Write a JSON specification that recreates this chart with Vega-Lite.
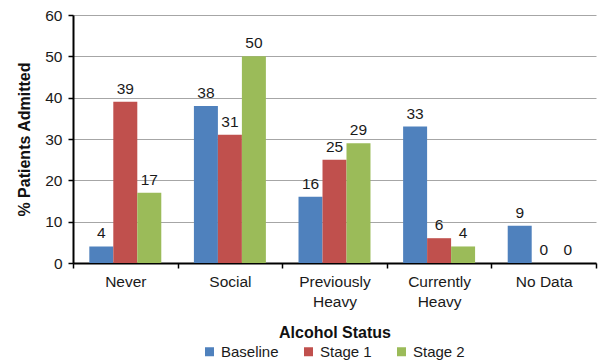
{
  "$schema": "https://vega.github.io/schema/vega-lite/v6.json",
  "width": 523,
  "height": 248,
  "autosize": "none",
  "padding": {"left": 73, "top": 15, "right": 3, "bottom": 100},
  "background": "white",
  "config": {
    "font": "Liberation Sans",
    "view": {"stroke": null},
    "axis": {
      "labelFont": "Liberation Sans",
      "titleFont": "Liberation Sans",
      "labelColor": "#1a1a1a",
      "titleColor": "#111111",
      "labelFontSize": 15.5,
      "titleFontSize": 16,
      "titleFontWeight": "bold",
      "domainColor": "#000000",
      "domainWidth": 2,
      "tickColor": "#000000",
      "tickWidth": 1.5,
      "tickSize": 5
    },
    "legend": {
      "labelFont": "Liberation Sans",
      "labelFontSize": 15,
      "labelColor": "#1a1a1a",
      "padding": 0
    }
  },
  "data": {
    "values": [
      {"status": "Never", "series": "Baseline", "pct": 4},
      {"status": "Never", "series": "Stage 1", "pct": 39},
      {"status": "Never", "series": "Stage 2", "pct": 17},
      {"status": "Social", "series": "Baseline", "pct": 38},
      {"status": "Social", "series": "Stage 1", "pct": 31},
      {"status": "Social", "series": "Stage 2", "pct": 50},
      {"status": "Previously Heavy", "series": "Baseline", "pct": 16},
      {"status": "Previously Heavy", "series": "Stage 1", "pct": 25},
      {"status": "Previously Heavy", "series": "Stage 2", "pct": 29},
      {"status": "Currently Heavy", "series": "Baseline", "pct": 33},
      {"status": "Currently Heavy", "series": "Stage 1", "pct": 6},
      {"status": "Currently Heavy", "series": "Stage 2", "pct": 4},
      {"status": "No Data", "series": "Baseline", "pct": 9},
      {"status": "No Data", "series": "Stage 1", "pct": 0},
      {"status": "No Data", "series": "Stage 2", "pct": 0}
    ]
  },
  "encoding": {
    "x": {
      "field": "status",
      "type": "nominal",
      "sort": ["Never", "Social", "Previously Heavy", "Currently Heavy", "No Data"],
      "scale": {"paddingInner": 0, "paddingOuter": 0},
      "axis": {
        "title": "Alcohol Status",
        "labelAngle": 0,
        "tickBand": "extent",
        "grid": false,
        "labelPadding": 6,
        "labelLineHeight": 20,
        "titlePadding": 15,
        "labelExpr": "datum.label == 'No Data' ? datum.label : split(datum.label, ' ')"
      }
    },
    "xOffset": {
      "field": "series",
      "type": "nominal",
      "sort": ["Baseline", "Stage 1", "Stage 2"],
      "scale": {"paddingInner": 0, "paddingOuter": 0.68}
    },
    "y": {
      "field": "pct",
      "type": "quantitative",
      "scale": {"domain": [0, 60], "nice": false},
      "axis": {
        "title": "% Patients Admitted",
        "values": [0, 10, 20, 30, 40, 50, 60],
        "grid": true,
        "gridColor": "#a6a6a6",
        "gridWidth": 1,
        "labelPadding": 6,
        "titlePadding": 12
      }
    }
  },
  "layer": [
    {
      "mark": {"type": "bar"},
      "encoding": {
        "color": {
          "field": "series",
          "type": "nominal",
          "sort": ["Baseline", "Stage 1", "Stage 2"],
          "scale": {
            "domain": ["Baseline", "Stage 1", "Stage 2"],
            "range": ["#4f81bd", "#c0504d", "#9bbb59"]
          },
          "legend": {
            "title": null,
            "orient": "none",
            "legendX": 129,
            "legendY": 329,
            "direction": "horizontal",
            "symbolType": "square",
            "symbolSize": 81,
            "symbolStrokeWidth": 0,
            "columnPadding": 22,
            "labelOffset": 4
          }
        }
      }
    },
    {
      "mark": {
        "type": "text",
        "baseline": "bottom",
        "dy": -5,
        "fontSize": 15.5,
        "color": "#1a1a1a",
        "font": "Liberation Sans"
      },
      "encoding": {
        "text": {"field": "pct", "type": "quantitative"}
      }
    }
  ]
}
